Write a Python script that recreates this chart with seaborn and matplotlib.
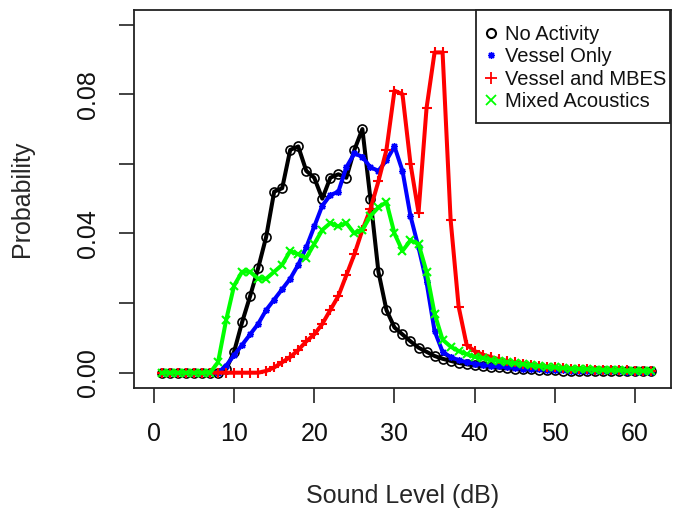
import matplotlib
matplotlib.use("Agg")
import matplotlib.pyplot as plt
from matplotlib.lines import Line2D
from matplotlib.patches import Rectangle
import seaborn as sns
import pandas as pd

# ---- data -------------------------------------------------------------
sound_level = list(range(1, 63))

no_activity = [0, 0, 0, 0, 0, 0, 0, 0, 0.001, 0.006,
               0.0145, 0.022, 0.030, 0.039, 0.052, 0.053, 0.064, 0.065, 0.058, 0.056,
               0.050, 0.056, 0.057, 0.056, 0.064, 0.070, 0.050, 0.029, 0.018, 0.013,
               0.011, 0.0090, 0.0072, 0.0060, 0.0048, 0.0040, 0.0034, 0.0028, 0.0024, 0.0021,
               0.0019, 0.0017, 0.0015, 0.0013, 0.0012, 0.0011, 0.0010, 0.0009, 0.0008, 0.0007,
               0.0006, 0.0006, 0.0005, 0.0005, 0.0004, 0.0004, 0.0004, 0.0004, 0.0005, 0.0005,
               0.0005, 0.0004]

vessel_only = [0, 0, 0, 0, 0, 0, 0, 0, 0.002, 0.005,
               0.008, 0.011, 0.014, 0.018, 0.021, 0.024, 0.027, 0.031, 0.036, 0.042,
               0.048, 0.051, 0.052, 0.059, 0.063, 0.062, 0.059, 0.058, 0.061, 0.065,
               0.058, 0.045, 0.036, 0.026, 0.012, 0.0060, 0.0045, 0.0036, 0.0030, 0.0026,
               0.0023, 0.0020, 0.0018, 0.0016, 0.0014, 0.0012, 0.0011, 0.0010, 0.0009, 0.0008,
               0.0007, 0.0006, 0.0006, 0.0005, 0.0005, 0.0004, 0.0004, 0.0004, 0.0003, 0.0003,
               0.0003, 0.0003]

vessel_mbes = [0, 0, 0, 0, 0, 0, 0, 0, 0, 0,
               0, 0, 0, 0.0005, 0.0015, 0.003, 0.0045, 0.0065, 0.009, 0.011,
               0.014, 0.018, 0.022, 0.028, 0.034, 0.041, 0.047, 0.055, 0.064, 0.081,
               0.080, 0.060, 0.046, 0.076, 0.092, 0.092, 0.044, 0.019, 0.008, 0.0062,
               0.0052, 0.0045, 0.0039, 0.0034, 0.0030, 0.0026, 0.0023, 0.0020, 0.0017, 0.0015,
               0.0013, 0.0012, 0.0011, 0.0010, 0.0009, 0.0008, 0.0008, 0.0007, 0.0007, 0.0006,
               0.0006, 0.0005]

mixed_acoustics = [0, 0, 0, 0, 0, 0, 0, 0.003, 0.015, 0.025,
                   0.029, 0.029, 0.027, 0.027, 0.029, 0.031, 0.035, 0.034, 0.033, 0.037,
                   0.041, 0.043, 0.042, 0.043, 0.040, 0.041, 0.045, 0.0475, 0.049, 0.040,
                   0.035, 0.038, 0.037, 0.029, 0.017, 0.0095, 0.0075, 0.0062, 0.0053, 0.0046,
                   0.0041, 0.0037, 0.0033, 0.0030, 0.0027, 0.0024, 0.0021, 0.0019, 0.0017, 0.0015,
                   0.0013, 0.0012, 0.0011, 0.0010, 0.0009, 0.0008, 0.0007, 0.0007, 0.0006, 0.0006,
                   0.0005, 0.0005]

series_names = ["No Activity", "Vessel Only", "Vessel and MBES", "Mixed Acoustics"]
x_ticks = [0, 10, 20, 30, 40, 50, 60]
y_ticks = [0.00, 0.02, 0.04, 0.06, 0.08, 0.10]
y_tick_labels = ["0.00", "", "0.04", "", "0.08", ""]

# ---- style ------------------------------------------------------------
sns.set_theme(style="white")
plt.rcParams["font.family"] = ["Liberation Sans", "DejaVu Sans"]
plt.rcParams["text.color"] = "#111111"

colors = ["#000000", "#0000FF", "#FF0000", "#00FF00"]
markers = ["o", (8, 2, 0), "+", "x"]
msizes = [6.5, 5, 7, 6]
facecols = ["none", "#0000FF", "#FF0000", "#00FF00"]
mews = [1.2, 1.0, 1.5, 1.5]

fig = plt.figure(figsize=(6.74, 5.17), dpi=100)
ax = fig.add_axes([0.1988, 0.2495, 0.7967, 0.7312])

all_series = [no_activity, vessel_only, vessel_mbes, mixed_acoustics]
for name, vals, c, m, ms, fc, mew in zip(series_names, all_series, colors, markers,
                                         msizes, facecols, mews):
    df = pd.DataFrame({"level": sound_level, "prob": vals})
    sns.lineplot(data=df, x="level", y="prob", ax=ax, color=c, linewidth=2.9,
                 marker=m, markersize=ms, markerfacecolor=fc, markeredgecolor=c,
                 markeredgewidth=mew, legend=False)

ax.set_xlim(-2.48, 64.48)
ax.set_ylim(-0.0044, 0.1042)
ax.set_xticks(x_ticks)
ax.set_xticklabels([str(t) for t in x_ticks])
ax.set_yticks(y_ticks)
ax.set_yticklabels(y_tick_labels)
for lab in ax.get_yticklabels():
    lab.set_rotation(90)
    lab.set_va("center")
    lab.set_ha("right")

ax.tick_params(axis="both", which="major", direction="out", length=10.5, width=1.2,
               color="#222222", labelsize=18, labelcolor="#111111",
               bottom=True, left=True)
ax.tick_params(axis="x", pad=14)
ax.tick_params(axis="y", pad=14)

for sp in ax.spines.values():
    sp.set_visible(True)
    sp.set_color("#222222")
    sp.set_linewidth(1.3)

ax.set_xlabel("Sound Level (dB)", fontsize=18, labelpad=27)
ax.set_ylabel("Probability", fontsize=18, labelpad=30)
ax.grid(False)

# legend box (R style)
box = Rectangle((0.6369, 0.701), 0.998 - 0.6369, 1.0 - 0.701, transform=ax.transAxes,
                facecolor="white", edgecolor="#222222", linewidth=1.3, zorder=4.5,
                clip_on=False)
ax.add_patch(box)

handles = []
for c, m, fc, name in zip(colors, markers, facecols, series_names):
    if m == "o":
        h = Line2D([], [], linestyle="none", marker="o", markersize=6.5,
                   markerfacecolor="none", markeredgecolor=c, markeredgewidth=1.5)
    elif m == "+":
        h = Line2D([], [], linestyle="none", marker="+", markersize=9,
                   markeredgecolor=c, markeredgewidth=1.3)
    elif m == "x":
        h = Line2D([], [], linestyle="none", marker="x", markersize=7,
                   markeredgecolor=c, markeredgewidth=1.3)
    else:
        h = Line2D([], [], linestyle="none", marker=m, markersize=5,
                   markeredgecolor=c, markeredgewidth=1.0)
    handles.append(h)

leg = ax.legend(handles, series_names, loc="upper left", bbox_to_anchor=(0.6530, 0.9610),
                borderaxespad=0.0, fontsize=14.5, frameon=False, handlelength=0.6,
                handletextpad=0.42, borderpad=0.0, labelspacing=0.17)
leg.set_zorder(5)

fig.savefig("out.png", dpi=100)
